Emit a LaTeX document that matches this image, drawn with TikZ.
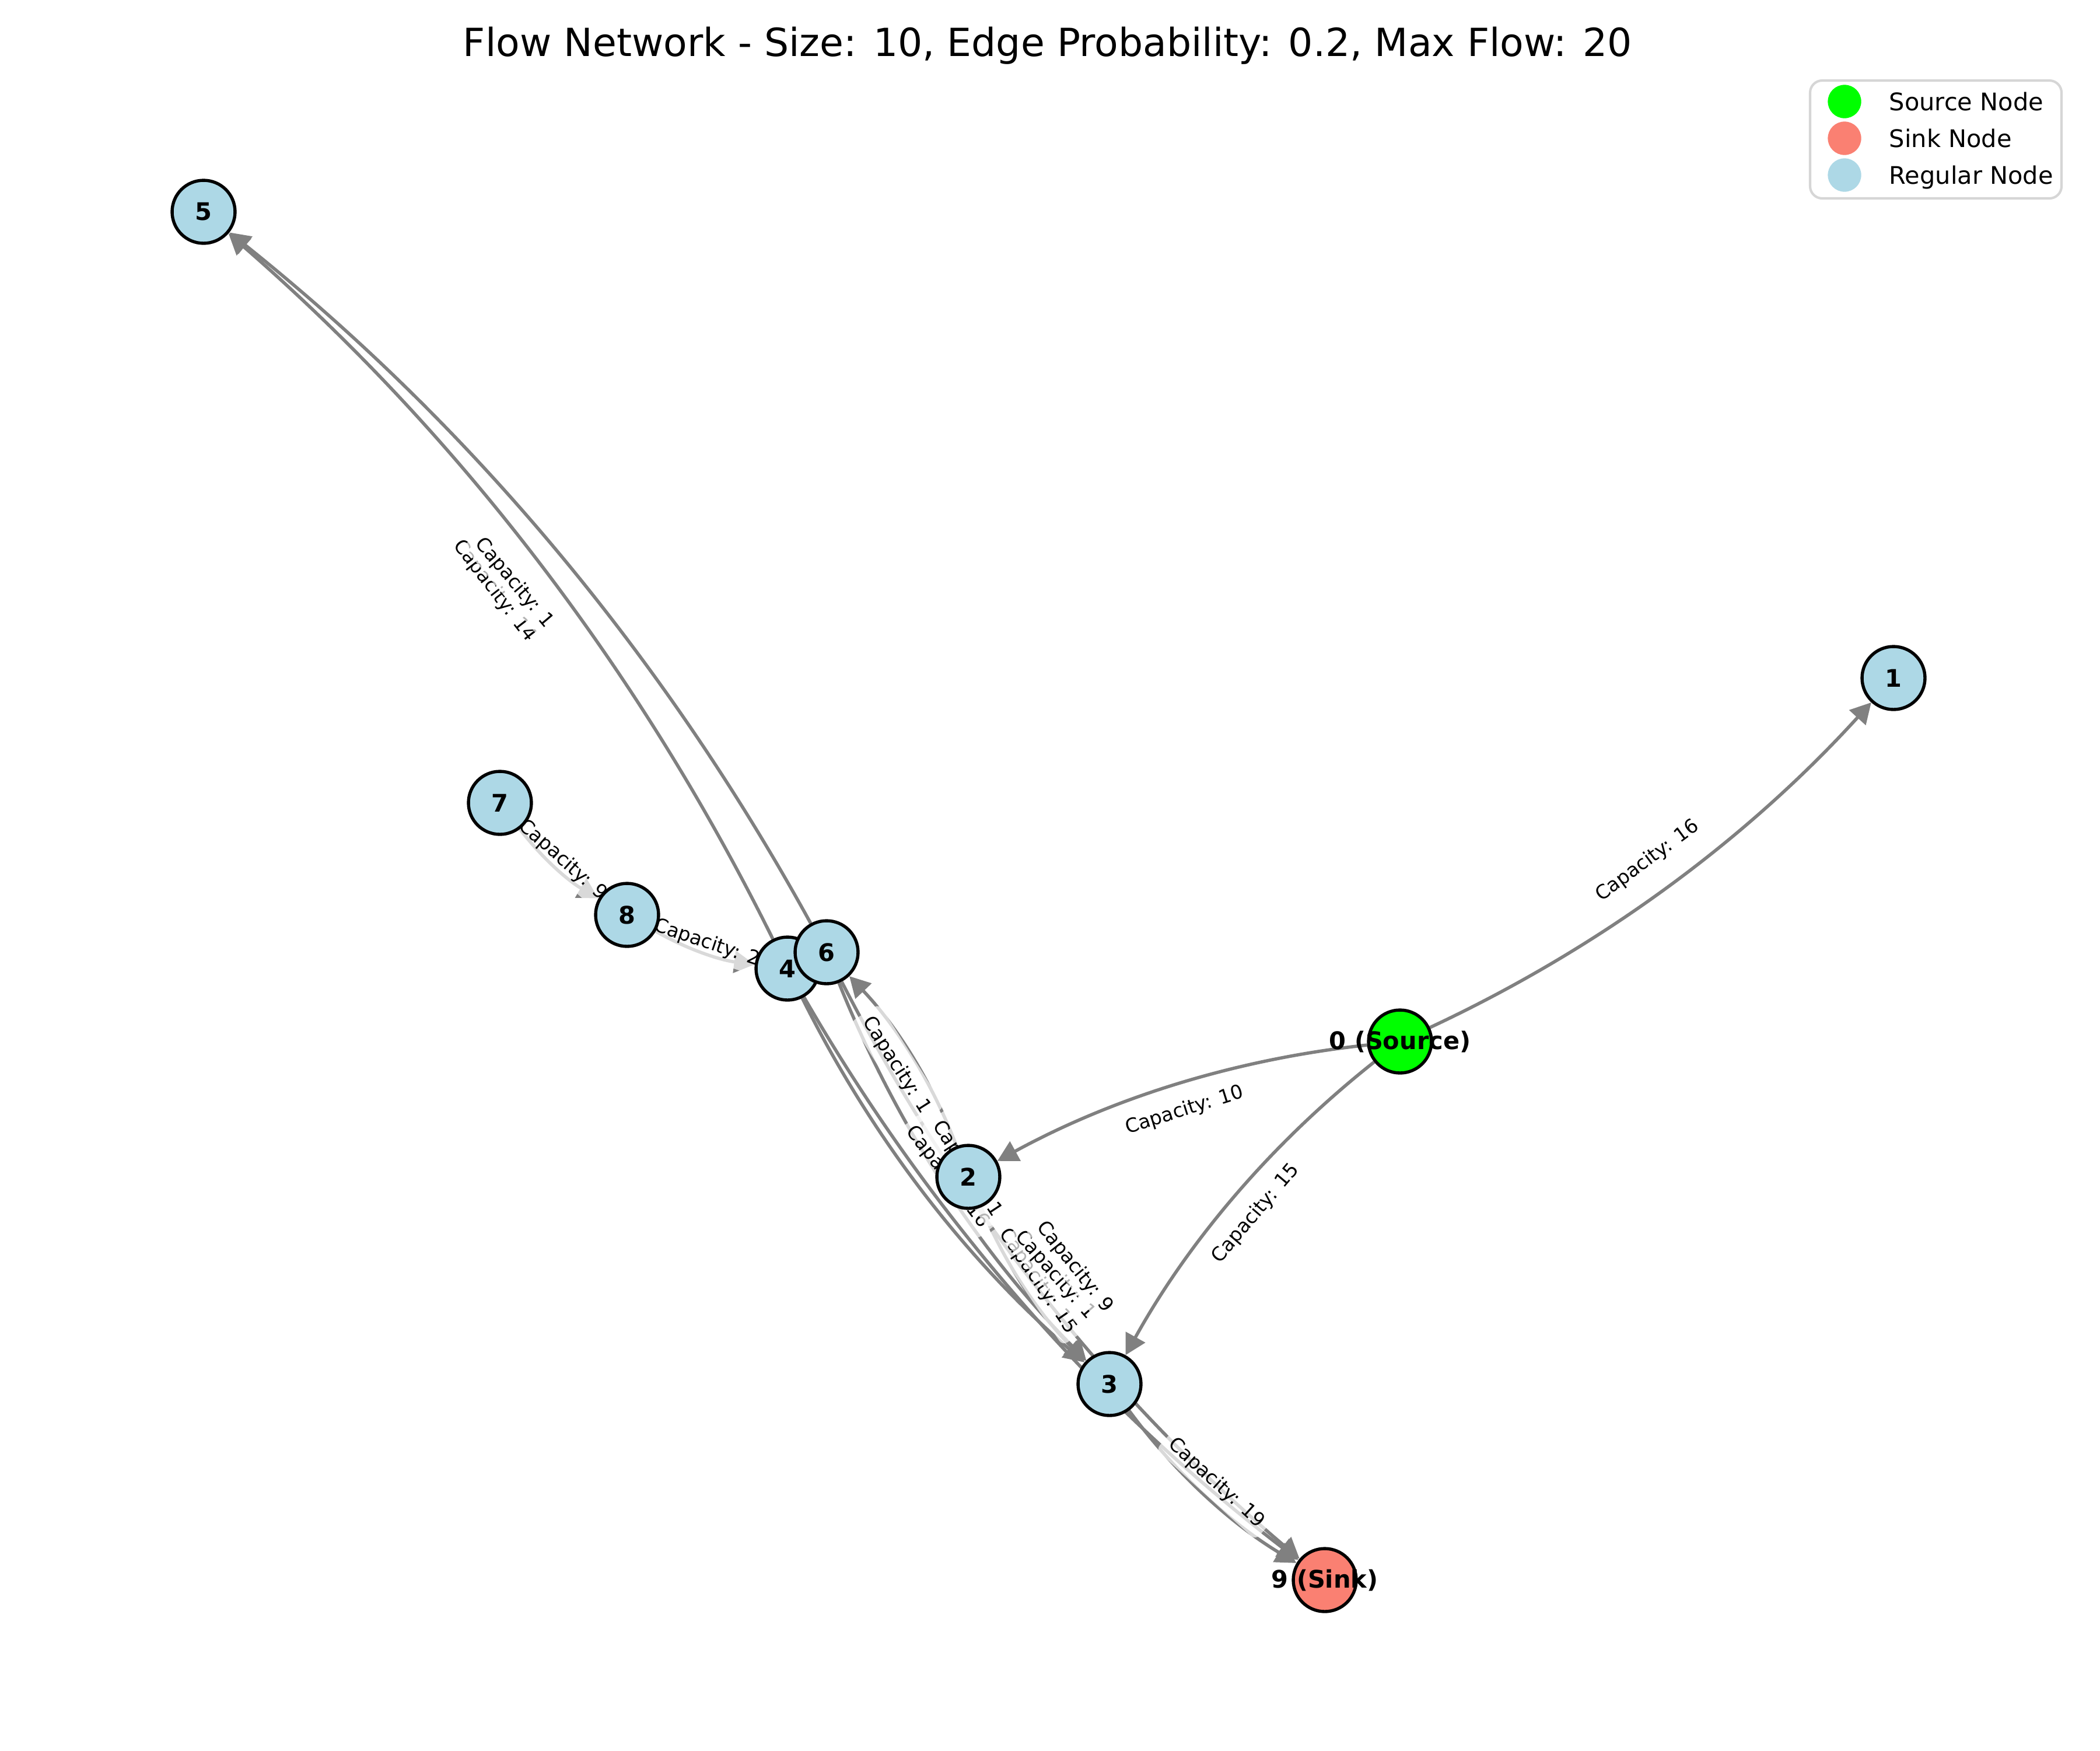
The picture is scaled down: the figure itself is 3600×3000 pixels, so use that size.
\documentclass[tikz,border=0pt]{standalone}
\usepackage{fontspec}
\setmainfont{DejaVu Sans}
\usetikzlibrary{arrows.meta,calc}
\definecolor{edgegray}{HTML}{808080}
\definecolor{lblue}{HTML}{ADD8E6}
\definecolor{limegreen}{HTML}{00FF00}
\definecolor{salmonred}{HTML}{FA8072}
\definecolor{legframe}{HTML}{D6D6D6}
\pgfdeclarelayer{edgelayer}
\pgfdeclarelayer{labellayer}
\pgfsetlayers{edgelayer,labellayer,main}
\begin{document}
\begin{tikzpicture}[x=0.2409pt, y=-0.2409pt,
  gnode/.style={circle, draw=black, line width=1.3pt, minimum size=26pt, inner sep=0pt},
  regnode/.style={gnode, fill=lblue},
  nlabel/.style={font=\bfseries\fontsize{10}{12}\selectfont, inner sep=0pt},
  edge/.style={draw=edgegray, line width=1.35pt, -{Triangle[length=8.5pt,width=9pt]}},
  ebend/.style={bend right=11.3, looseness=0.87},
  lbl/.style={midway, sloped, fill=white, fill opacity=0.7, text opacity=1, rounded corners=2.4pt, inner sep=2.4pt, text height=7.4pt, text depth=1.9pt, font=\fontsize{8}{9.6}\selectfont},
  legtext/.style={anchor=base west, font=\fontsize{10}{12}\selectfont, inner sep=0pt},
  legmark/.style={circle, minimum size=13.8pt, inner sep=0pt}
]
\useasboundingbox (0,0) rectangle (3600,3000);

% title
\node[anchor=base, font=\fontsize{16}{19}\selectfont, inner sep=0pt] (title) at (1796,96) {Flow Network - Size: 10, Edge Probability: 0.2, Max Flow: 20};

% nodes
\node[gnode, fill=limegreen] (n0) at (2400,1785) {};
\node[regnode] (n1) at (3246,1162) {};
\node[regnode] (n2) at (1660,2017) {};
\node[regnode] (n3) at (1902,2372) {};
\node[regnode] (n4) at (1350,1660) {};
\node[regnode] (n5) at (349,363) {};
\node[regnode] (n6) at (1417,1632) {};
\node[regnode] (n7) at (857,1376) {};
\node[regnode] (n8) at (1075,1568) {};
\node[gnode, fill=salmonred] (n9) at (2271,2708) {};

\node[nlabel] (t0) at (n0) {0 (Source)};
\node[nlabel] (t1) at (n1) {1};
\node[nlabel] (t2) at (n2) {2};
\node[nlabel] (t3) at (n3) {3};
\node[nlabel] (t4) at (n4) {4};
\node[nlabel] (t5) at (n5) {5};
\node[nlabel] (t6) at (n6) {6};
\node[nlabel] (t7) at (n7) {7};
\node[nlabel] (t8) at (n8) {8};
\node[nlabel] (t9) at (n9) {9 (Sink)};

% edges
\begin{pgfonlayer}{edgelayer}
\draw[edge] (n0) to[ebend] (n1);
\draw[edge] (n0) to[ebend] (n2);
\draw[edge] (n0) to[ebend] (n3);
\draw[edge] (n2) to[ebend] (n3);
\draw[edge] (n2) to[ebend] (n6);
\draw[edge] (n3) to[ebend] (n9);
\draw[edge] (n4) to[ebend] (n3);
\draw[edge] (n4) to[ebend] (n5);
\draw[edge] (n4) to[ebend] (n9);
\draw[edge] (n6) to[ebend] (n3);
\draw[edge] (n6) to[ebend] (n5);
\draw[edge] (n6) to[ebend] (n9);
\draw[edge] (n7) to[ebend] (n8);
\draw[edge] (n8) to[ebend] (n4);
\end{pgfonlayer}

% edge labels
\begin{pgfonlayer}{labellayer}
\path (n0.center) -- (n1.center) node[lbl] (l01) {Capacity: 16};
\path (n0.center) -- (n2.center) node[lbl] (l02) {Capacity: 10};
\path (n0.center) -- (n3.center) node[lbl] (l03) {Capacity: 15};
\path (n2.center) -- (n3.center) node[lbl] (l23) {Capacity: 15};
\path (n2.center) -- (n6.center) node[lbl] (l26) {Capacity: 1};
\path (n3.center) -- (n9.center) node[lbl] (l39) {Capacity: 19};
\path (n4.center) -- (n3.center) node[lbl] (l43) {Capacity: 16};
\path (n4.center) -- (n5.center) node[lbl] (l45) {Capacity: 14};
\path (n4.center) -- (n9.center) node[lbl] (l49) {Capacity: 1};
\path (n6.center) -- (n3.center) node[lbl] (l63) {Capacity: 1};
\path (n6.center) -- (n5.center) node[lbl] (l65) {Capacity: 1};
\path (n6.center) -- (n9.center) node[lbl] (l69) {Capacity: 9};
\path (n7.center) -- (n8.center) node[lbl] (l78) {Capacity: 9};
\path (n8.center) -- (n4.center) node[lbl] (l84) {Capacity: 2};
\end{pgfonlayer}

% legend
\draw[legframe, line width=1pt, rounded corners=5pt, fill=white] (3103,138) rectangle (3534,340);
\node[legmark, fill=limegreen] (m1) at (3162,174) {};
\node[legmark, fill=salmonred] (m2) at (3162,237) {};
\node[legmark, fill=lblue] (m3) at (3162,300) {};
\node[legtext] (g1) at (3238,189) {Source Node};
\node[legtext] (g2) at (3238,252) {Sink Node};
\node[legtext] (g3) at (3238,315) {Regular Node};
\end{tikzpicture}
\end{document}
